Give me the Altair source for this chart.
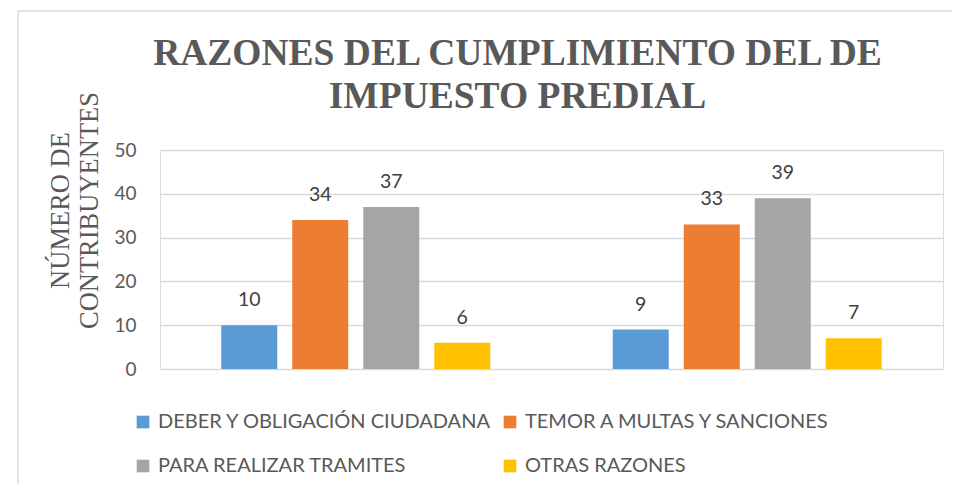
import altair as alt
import pandas as pd

groups = ["1", "2"]
categories = [
    "DEBER Y OBLIGACIÓN CIUDADANA",
    "TEMOR A MULTAS Y SANCIONES",
    "PARA REALIZAR TRAMITES",
    "OTRAS RAZONES",
]
values_group1 = [10, 34, 37, 6]
values_group2 = [9, 33, 39, 7]
colors = ["#5B9BD5", "#ED7D31", "#A5A5A5", "#FFC000"]

rows = []
for g, vals in zip(groups, [values_group1, values_group2]):
    for c, v in zip(categories, vals):
        rows.append({"grupo": g, "razon": c, "valor": v})
df = pd.DataFrame(rows)

W, H = 783, 219

xenc = alt.X("grupo:N", axis=None, sort=groups,
             scale=alt.Scale(paddingInner=0, paddingOuter=0))
xoff = alt.XOffset("razon:N", sort=categories,
                   scale=alt.Scale(paddingInner=0.2113, paddingOuter=0.8627))

bars = alt.Chart(df).mark_bar().encode(
    x=xenc,
    xOffset=xoff,
    y=alt.Y("valor:Q",
            scale=alt.Scale(domain=[0, 50], nice=False),
            axis=alt.Axis(values=[0, 10, 20, 30, 40, 50],
                          title=["NÚMERO DE", "CONTRIBUYENTES"],
                          titleFont="Liberation Serif", titleFontSize=26.5,
                          titleFontWeight="normal", titleColor="#595959",
                          titleLineHeight=29, titleAngle=-90,
                          titleX=-113, titleY=60, titleAlign="center",
                          titleBaseline="top",
                          labelFont="Lato", labelFontSize=19, labelColor="#595959",
                          labelPadding=24, domain=False, ticks=False,
                          grid=True, gridColor="#D9D9D9", gridWidth=1.3)),
    color=alt.Color("razon:N", sort=categories,
                    scale=alt.Scale(domain=categories, range=colors),
                    legend=alt.Legend(title=None, orient="none", direction="horizontal",
                                      columns=2, legendX=-27, legendY=262,
                                      symbolType="square", symbolSize=160,
                                      symbolStrokeWidth=0,
                                      labelFont="Lato", labelFontSize=20,
                                      labelColor="#595959", labelOffset=5,
                                      labelLimit=600, columnPadding=8,
                                      rowPadding=24, padding=0)),
)

labels = alt.Chart(df).mark_text(
    baseline="bottom", dy=-15, font="Lato", fontSize=19.5, color="#404040"
).encode(
    x=xenc,
    xOffset=xoff,
    y=alt.Y("valor:Q", scale=alt.Scale(domain=[0, 50], nice=False)),
    text=alt.Text("valor:Q"),
)

frame_df = pd.DataFrame({"f": [1]})
frame = alt.Chart(frame_df).mark_rect(
    fillOpacity=0, stroke="#D9D9D9", strokeWidth=1.3
).encode(
    x=alt.value(-142), x2=alt.value(900), y=alt.value(-139), y2=alt.value(400)
)

chart = alt.layer(frame, bars, labels).properties(
    width=W, height=H,
    autosize=alt.AutoSizeParams(type="none"),
    padding={"left": 152, "top": 142, "right": 9, "bottom": 115},
    title=alt.TitleParams(
        ["RAZONES DEL CUMPLIMIENTO DEL DE", "IMPUESTO PREDIAL"],
        font="Liberation Serif", fontSize=37.5, fontWeight="bold",
        color="#595959", anchor="middle", frame="group", dx=-34,
        baseline="top", offset=0, dy=105, lineHeight=43,
    ),
).configure_view(stroke=None).configure(background="white")

chart.save("out.html", embed_options={"renderer": "svg", "actions": False})
